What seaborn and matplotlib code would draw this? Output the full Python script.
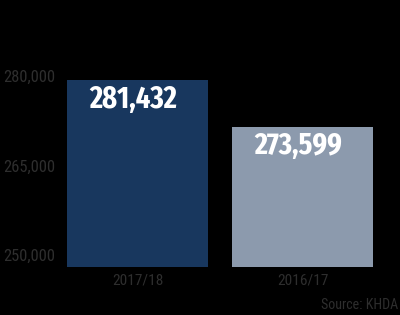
import os
import matplotlib
matplotlib.use("Agg")
import matplotlib.pyplot as plt
import matplotlib.transforms as mtransforms
import matplotlib.font_manager as fm
import seaborn as sns
import pandas as pd

categories = ["2017/18", "2016/17"]
values = [281432, 273599]
value_labels = ["281,432", "273,599"]
ytick_values = [250000, 265000, 280000]
ytick_labels = ["250,000", "265,000", "280,000"]
bar_colors = ["#18375e", "#8c9aad"]
source_text = "Source: KHDA"

sns.set_theme(style="white")
plt.rcParams['font.family'] = ['DejaVu Sans']


def find_font(width_tokens, weight_tokens, avoid_tokens):
    best = None
    best_score = None
    for f in fm.fontManager.ttflist:
        base = os.path.basename(f.fname).lower().replace("-", "").replace("_", "").replace(" ", "")
        for wi, wt in enumerate(width_tokens):
            if wt in base:
                break
        else:
            continue
        if any(a in base for a in avoid_tokens):
            continue
        if "italic" in base:
            continue
        ws = None
        for ki, kt in enumerate(weight_tokens):
            if kt in base:
                ws = ki
                break
        if ws is None:
            continue
        score = (wi, ws)
        if best_score is None or score < best_score:
            best_score = score
            best = f.fname
    return best


bold_path = find_font(["extracondensed", "condensed", "narrow"],
                      ["extracondensedbold", "condensedbold", "narrowbold", "bold"],
                      ["semibold", "extrabold", "black", "light", "thin", "medium", "semicondensed"])
reg_path = find_font(["robotocondensed", "condensed", "narrow"],
                     ["regular", "condensed.ttf", "narrow.ttf", "condensed"],
                     ["bold", "light", "thin", "medium", "black", "extracondensed", "semicondensed"])


def fp(path, weight):
    if path:
        return fm.FontProperties(fname=path)
    return fm.FontProperties(family="DejaVu Sans", stretch="condensed", weight=weight)


bold_fp = fp(bold_path, "bold")
reg_fp = fp(reg_path, "normal")

df = pd.DataFrame({"year": categories, "students": values})

W, H = 400, 315
fig = plt.figure(figsize=(W / 100, H / 100), dpi=100, facecolor="black")
ax = fig.add_axes([60 / W, (H - 267) / H, 320 / W, 247 / H])
ax.set_facecolor("black")

sns.barplot(data=df, x="year", y="students", hue="year", palette=bar_colors,
            width=0.855, saturation=1, legend=False, linewidth=0, ax=ax)

ax.set_ylim(250400, 291567)
ax.set_xlim(-0.4697, 1.4697)
for s in ax.spines.values():
    s.set_visible(False)
ax.set_xlabel("")
ax.set_ylabel("")
ax.grid(False)

tick_color = "#2e2e2e"
ax.set_yticks(ytick_values)
ax.set_yticklabels(ytick_labels, color=tick_color, fontproperties=reg_fp)
ax.tick_params(axis="y", length=0, pad=3.6)
offset = mtransforms.ScaledTranslation(0, 12.5 / 100, fig.dpi_scale_trans)
for lab in ax.get_yticklabels():
    lab.set_transform(lab.get_transform() + offset)
    lab.set_clip_on(False)

ax.set_xticks([0, 1])
ax.set_xticklabels(categories, color=tick_color, fontproperties=reg_fp)
ax.tick_params(axis="x", length=0, pad=5)

val_texts = []
for i, (v, lab) in enumerate(zip(values, value_labels)):
    t = ax.annotate(lab, xy=(i, v), xytext=(-3, -3), textcoords="offset points",
                    ha="center", va="top", color="white", fontproperties=bold_fp.copy())
    val_texts.append(t)

src = fig.text(398 / W, 1 - 305 / H, source_text, ha="right", va="center",
               color=tick_color, fontproperties=reg_fp.copy())

renderer = fig.canvas.get_renderer()


def fit(t, target_w, max_size):
    t.set_fontsize(max_size)
    w = t.get_window_extent(renderer).width
    if w > target_w:
        t.set_fontsize(max_size * target_w / w)


for t in val_texts:
    fit(t, 88, 29)
for t in ax.get_yticklabels():
    fit(t, 52, 12)
for t in ax.get_xticklabels():
    fit(t, 51, 12)
fit(src, 77, 11)

fig.savefig("out.png", dpi=100, facecolor="black")
